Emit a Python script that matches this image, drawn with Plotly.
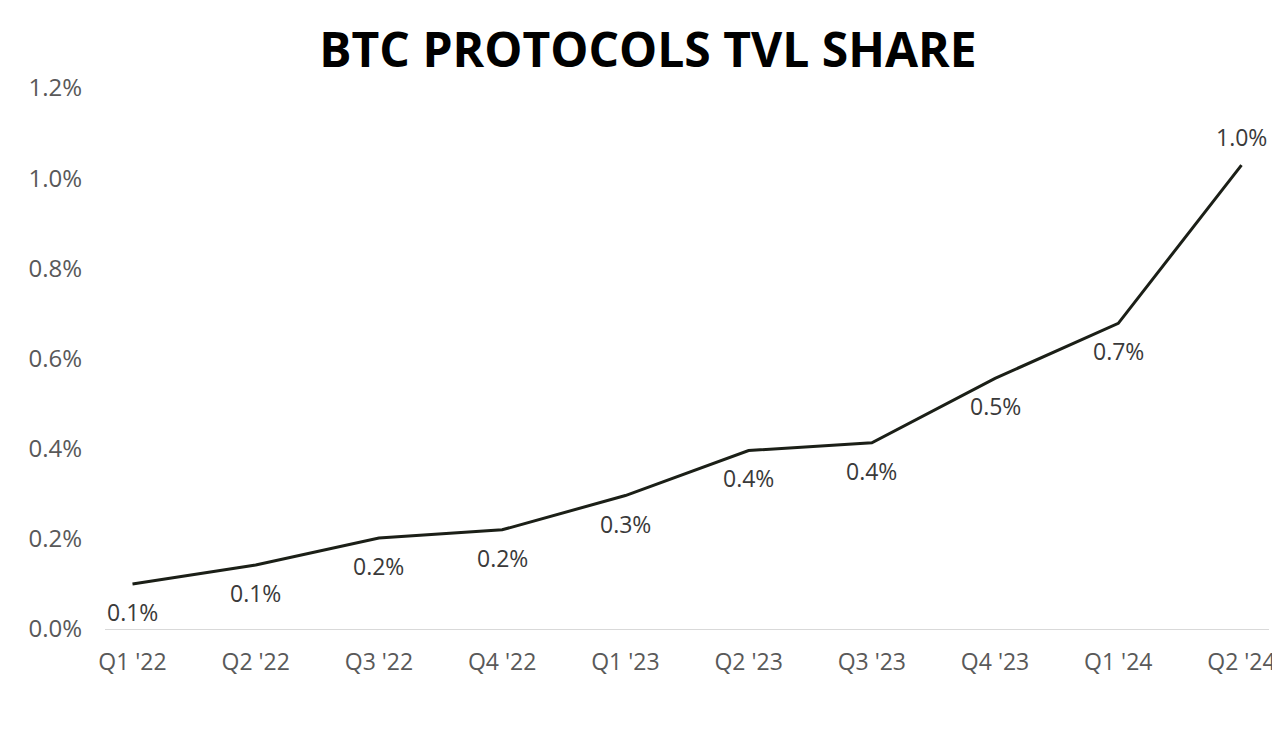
import plotly.graph_objects as go

quarters = ["Q1 '22", "Q2 '22", "Q3 '22", "Q4 '22", "Q1 '23", "Q2 '23", "Q3 '23", "Q4 '23", "Q1 '24", "Q2 '24"]
tvl_share = [0.100, 0.142, 0.202, 0.220, 0.296, 0.396, 0.413, 0.556, 0.678, 1.029]
labels = ["0.1%", "0.1%", "0.2%", "0.2%", "0.3%", "0.4%", "0.4%", "0.5%", "0.7%", "1.0%"]

fig = go.Figure()
fig.add_trace(go.Scatter(
    x=quarters, y=tvl_share,
    mode="lines",
    line=dict(color="#1b1f17", width=3),
    cliponaxis=False,
))

# data labels: below the line, except the last one
for i, (q, v, lab) in enumerate(zip(quarters, tvl_share, labels)):
    fig.add_annotation(x=q, y=v, text=lab, showarrow=False,
                       yshift=28 if i == len(quarters) - 1 else -28,
                       font=dict(size=23, color="#3a3a3a", family="Open Sans"))

fig.update_layout(
    title=dict(text="<b>BTC PROTOCOLS TVL SHARE</b>", x=0.5, xanchor="center", y=0.965,
               font=dict(size=48, color="#000000", family="Open Sans")),
    width=1280, height=733,
    margin=dict(l=97, r=15, t=80, b=112),
    plot_bgcolor="white", paper_bgcolor="white",
    showlegend=False,
    font=dict(family="Open Sans", color="#595959"),
)
fig.update_xaxes(showgrid=False, showline=True, linecolor="#d9d9d9", linewidth=1,
                 tickfont=dict(size=23, color="#595959"), ticks="", ticklabelstandoff=12)
fig.update_yaxes(range=[0, 1.2], dtick=0.2, tickformat=".1f", ticksuffix="%",
                 showgrid=False, zeroline=False, showline=False,
                 tickfont=dict(size=24, color="#595959"), ticklabelstandoff=22)

fig.write_html("out.html")
